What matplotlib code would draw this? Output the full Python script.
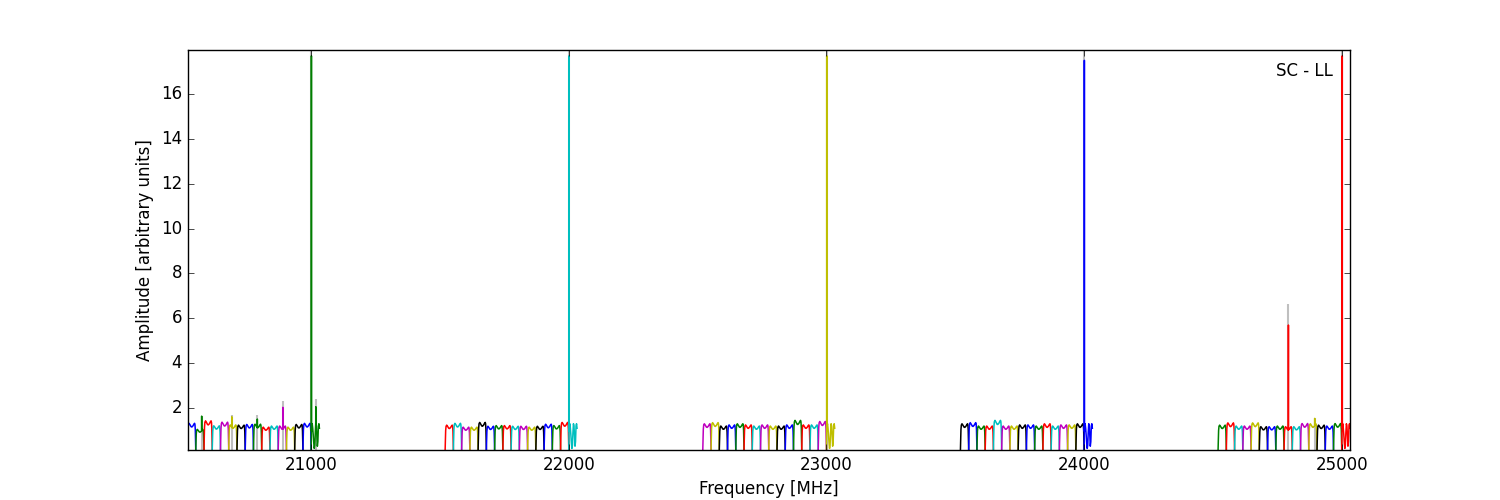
import numpy as np
import matplotlib
matplotlib.use('Agg')
import matplotlib.pyplot as plt

plt.style.use('classic')
plt.rcParams['axes.formatter.useoffset'] = False

# 5 IF groups, 16 channels of 32 MHz each
group_starts = [20520, 21520, 22520, 23520, 24520]
chan_width = 32.0
chan_colors = ['b', 'g', 'r', 'c', 'm', 'y', 'k']

# peak level of every channel (last channel of each group carries the tone)
levels_g1 = [1.32, 1.05, 1.43, 1.21, 1.37, 1.25, 1.24, 1.27, 1.28, 1.15, 1.20, 1.20, 1.15, 1.27, 1.32, 1.0]
levels_g2 = [1.24, 1.32, 1.15, 1.15, 1.36, 1.19, 1.22, 1.22, 1.19, 1.19, 1.15, 1.19, 1.28, 1.22, 1.36, 1.0]
levels_g3 = [1.30, 1.35, 1.20, 1.25, 1.30, 1.25, 1.20, 1.25, 1.20, 1.20, 1.25, 1.45, 1.25, 1.25, 1.40, 1.0]
levels_g4 = [1.30, 1.35, 1.20, 1.20, 1.45, 1.20, 1.20, 1.25, 1.25, 1.20, 1.30, 1.20, 1.25, 1.25, 1.30, 1.0]
levels_g5 = [1.24, 1.34, 1.20, 1.20, 1.34, 1.17, 1.17, 1.20, 1.17, 1.17, 1.31, 1.30, 1.24, 1.20, 1.31, 1.0]
levels = [levels_g1, levels_g2, levels_g3, levels_g4, levels_g5]

# bandpass shape of a normal channel (offset in MHz, fraction of level)
band_offsets = [0, 1.0, 2.0, 3.5, 6, 10, 14, 17, 21, 25, 27.5, 29, 30.3, 31.2, 32]
band_shape = [0.0, 0.4, 0.78, 0.95, 1.0, 0.94, 0.87, 0.86, 0.9, 0.97, 1.0, 0.95, 0.75, 0.35, 0.0]
floor = 0.14

# noisy channel holding the tone (offset in MHz, amplitude)
tone_offsets = [0, 0.6, 2.5, 4, 6, 8, 10, 12, 14, 16, 18, 20, 22, 24, 26, 28, 30, 32]
tone_shape = [0.14, 0.9, 1.2, 1.3, 1.1, 0.8, 0.45, 0.2, 0.35, 0.9, 1.3, 1.2, 0.8, 0.3, 0.5, 1.2, 1.3, 1.1]

# narrow spikes: frequency [MHz], amplitude, max-hold amplitude (grey)
spike_freq = [20575, 20692, 20791, 20890, 21001, 21018, 22001, 23001, 24001, 24793, 24895, 25002]
spike_amp = [1.64, 1.61, 1.51, 2.03, 17.7, 2.06, 17.7, 17.7, 17.5, 5.7, 1.54, 17.7]
spike_grey = [1.64, 1.71, 1.68, 2.33, 17.96, 2.39, 17.96, 17.96, 17.96, 6.62, 1.54, 17.96]

fig = plt.figure(figsize=(15, 5), dpi=100)
ax = fig.add_subplot(111)

# grey max-hold behind the channels
ax.vlines(spike_freq, floor, spike_grey, colors='0.75', lw=1.5, zorder=1)

k = 0
for g, start in enumerate(group_starts):
    for i in range(16):
        f0 = start + i * chan_width
        if i == 15:
            fx = f0 + np.array(tone_offsets)
            yy = np.array(tone_shape)
        else:
            fx = f0 + np.array(band_offsets)
            yy = floor + (levels[g][i] - floor) * np.array(band_shape)
        fx = list(fx)
        yy = list(yy)
        for sf, sa in zip(spike_freq, spike_amp):
            if f0 <= sf < f0 + chan_width:
                base = np.interp(sf, fx, yy)
                for df, v in [(-0.3, base), (0, sa), (0.3, base)]:
                    j = int(np.searchsorted(fx, sf + df))
                    fx.insert(j, sf + df)
                    yy.insert(j, v)
        ax.plot(fx, yy, color=chan_colors[k % 7], lw=1.1, zorder=2)
        k += 1

ax.set_xlim(20520, 25032)
ax.set_ylim(0.13, 17.96)
ax.set_xticks([21000, 22000, 23000, 24000, 25000])
ax.set_yticks(range(2, 17, 2))
ax.set_xlabel('Frequency [MHz]')
ax.set_ylabel('Amplitude [arbitrary units]')
ax.text(0.985, 0.97, 'SC - LL', transform=ax.transAxes, ha='right', va='top')

fig.savefig('out.png', dpi=100)
